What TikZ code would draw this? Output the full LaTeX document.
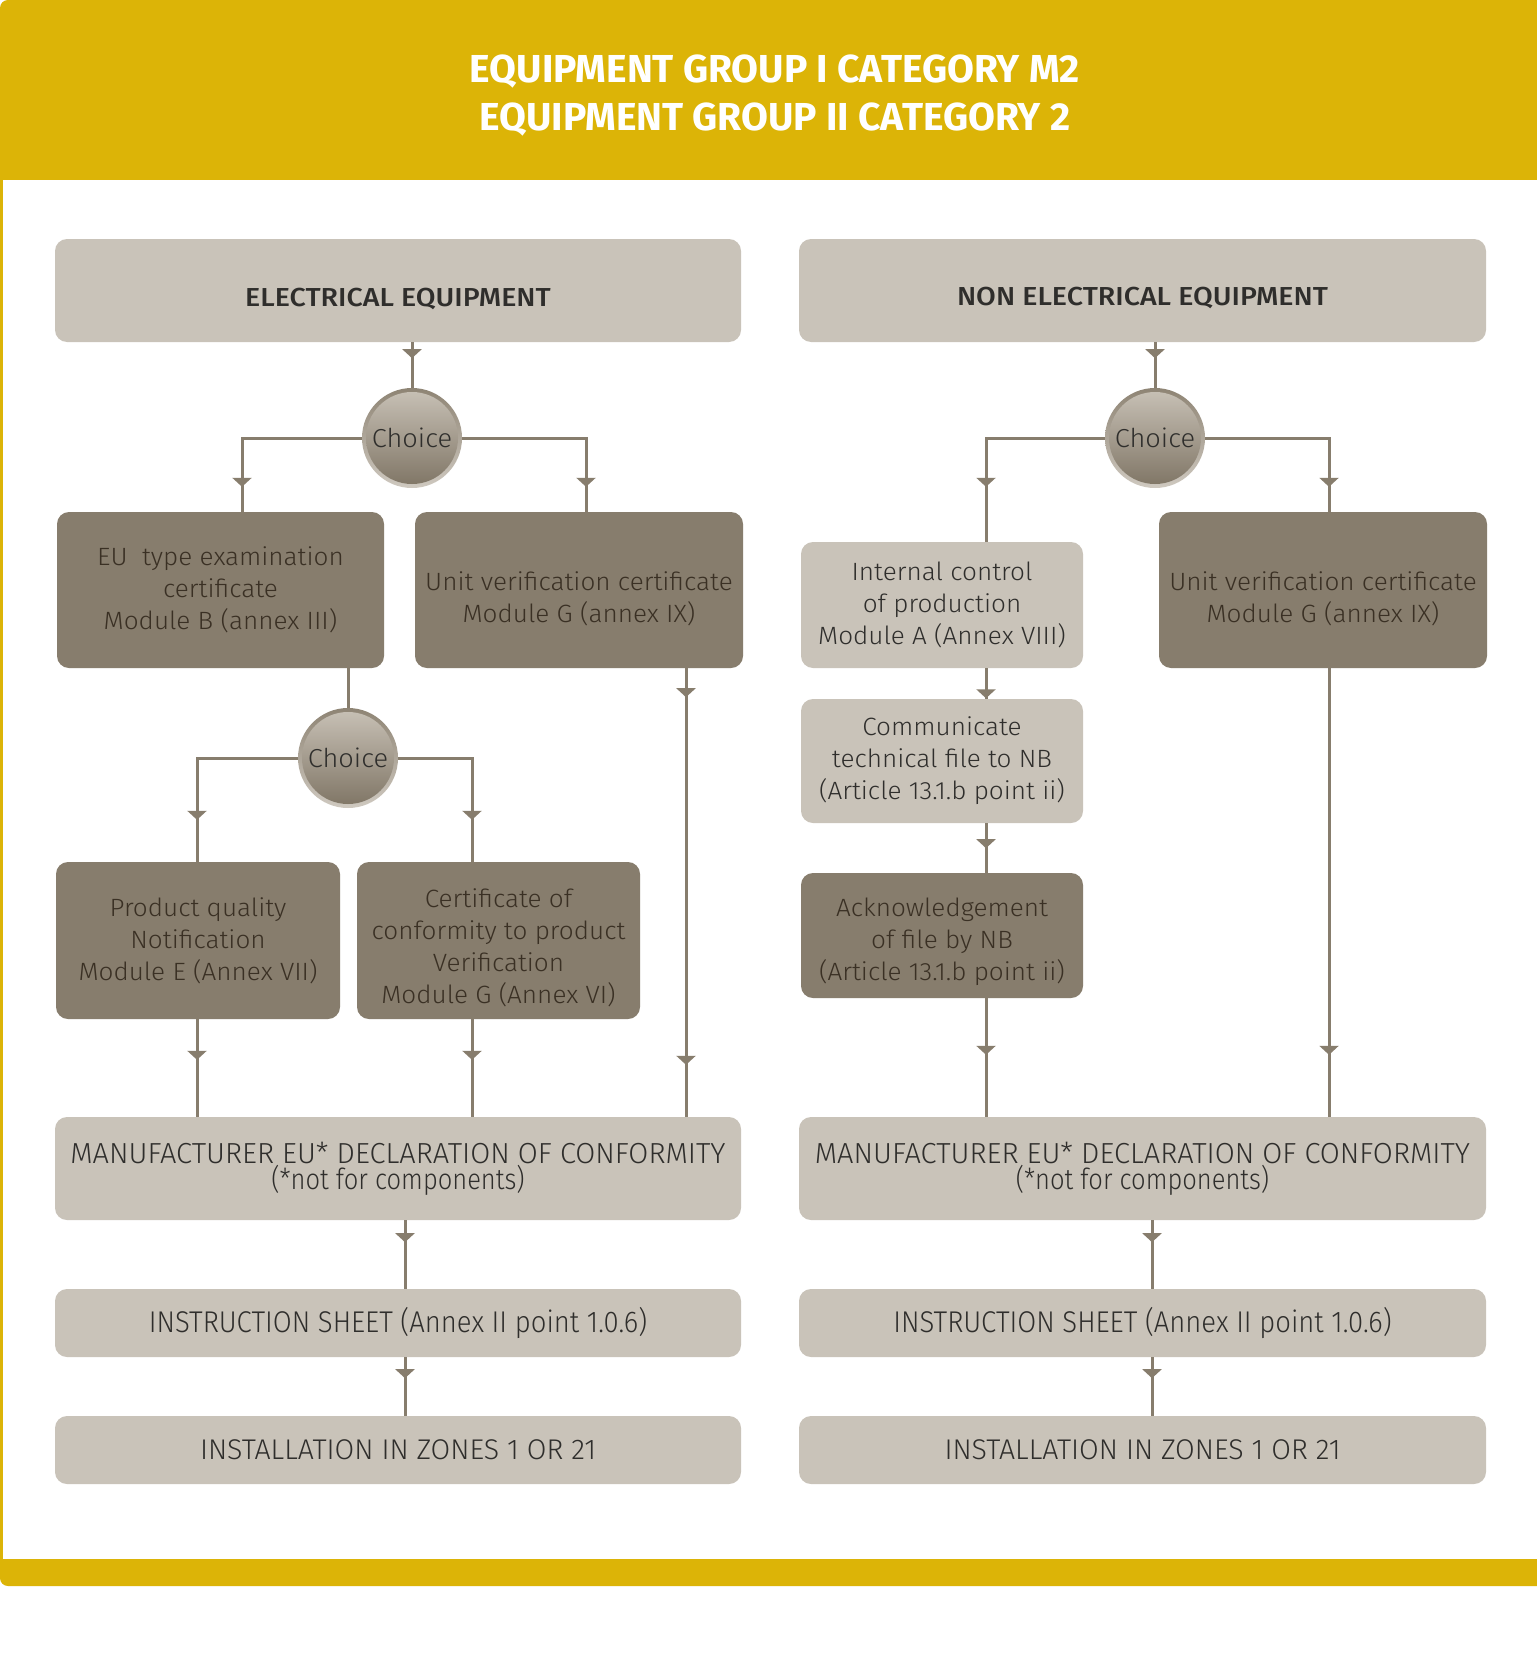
\documentclass[tikz,border=0pt]{standalone}
\usepackage{fontspec}
\setmainfont{Fira Sans Light}
\newfontfamily\fl{Fira Sans Light}[FakeStretch=1.045]
\newfontfamily\fc{Fira Sans Light}
\newfontfamily\fci{Fira Sans Light}[FakeStretch=0.915]
\newfontfamily\fcn{Fira Sans Light}[FakeStretch=0.88]
\newfontfamily\fm{Fira Sans Medium}[FakeStretch=1.1]
\newfontfamily\fb{Fira Sans Bold}[FakeStretch=1.0]
\usetikzlibrary{arrows.meta,decorations.markings}
\definecolor{gold}{HTML}{DCB407}
\definecolor{darkbox}{HTML}{877D6D}
\definecolor{lightbox}{HTML}{C9C3B9}
\definecolor{linec}{HTML}{877D6D}
\definecolor{dtext}{HTML}{3A3024}
\definecolor{ltext}{HTML}{2F2E2C}
\definecolor{ringtop}{HTML}{8E8474}
\definecolor{ringbot}{HTML}{CFC9C0}
\definecolor{chtop}{HTML}{C9C2B7}
\definecolor{chbot}{HTML}{7E7464}
\tikzset{
  box/.style={rounded corners=12pt, inner sep=0pt, align=center},
  dtxt/.style={font=\fl\fontsize{25pt}{32pt}\selectfont, text=dtext, align=center},
  ltxt/.style={font=\fl\fontsize{25pt}{32pt}\selectfont, text=ltext, align=center},
  htxt/.style={font=\fm\fontsize{26pt}{32pt}\selectfont, text=ltext, align=center},
  darkb/.style={box, fill=darkbox, dtxt},
  lightb/.style={box, fill=lightbox, ltxt},
  headb/.style={box, fill=lightbox},
  capb/.style={box, fill=lightbox, text=ltext, font=\fc\fontsize{29pt}{26pt}\selectfont},
  choice/.style={circle, minimum size=100pt, inner sep=0pt, top color=ringtop, bottom color=ringbot, draw=none,
    font=\fl\fontsize{26pt}{30pt}\selectfont, text=ltext,
    path picture={\shade[top color=chtop, bottom color=chbot] (path picture bounding box.center) circle (46pt);}},
  conn/.style={draw=linec, line width=3pt},
  arr/.style={postaction={decorate, decoration={markings, mark=at position #1 with {\arrow[linec]{Triangle[width=19pt,length=9pt]}}}}},
}
\begin{document}
\begin{tikzpicture}[x=1pt, y=-1pt]
\useasboundingbox (0,0) rectangle (1536,1664);
\fill[white] (0,0) rectangle (1536,1664);
% frame
\fill[gold, rounded corners=8pt] (0,0) -- (1546,0) -- (1546,1586) -- (0,1586) -- cycle;
\fill[white] (3,180) rectangle (1540,1559);
\node[text=white, font=\fb\fontsize{39pt}{48pt}\selectfont, align=center] (title) at (775,96)
  {EQUIPMENT GROUP I CATEGORY M2\\EQUIPMENT GROUP II CATEGORY 2};

% left column
\node[headb, minimum width=686pt, minimum height=103pt,
  label={[htxt, yshift=-8.5pt]center:ELECTRICAL EQUIPMENT}] (hdrL) at (398,290.5) {};
\node[choice] (ch1) at (412,438) {Choice};
\node[darkb, minimum width=327pt, minimum height=156pt] (boxB) at (220.5,590)
  {EU\ \ type examination\\certificate\\Module B (annex III)};
\node[darkb, minimum width=328pt, minimum height=156pt,
  label={[dtxt, yshift=-8.5pt]center:{Unit verification certificate\\Module G (annex IX)}}] (unitL) at (579,590) {};
\node[choice] (ch2) at (348,758) {Choice};
\node[darkb, minimum width=284pt, minimum height=157pt] (boxE) at (198,940.5)
  {Product quality\\Notification\\Module E (Annex VII)};
\node[darkb, minimum width=283pt, minimum height=157pt,
  label={[dtxt, yshift=-7.5pt]center:{Certificate of\\conformity to product\\Verification\\Module G (Annex VI)}}] (boxG) at (498.5,940.5) {};
\node[capb, minimum width=686pt, minimum height=103pt] (declL) at (398,1168.5)
  {MANUFACTURER EU* DECLARATION OF CONFORMITY\\{\fcn(*not for components)}};
\node[capb, minimum width=686pt, minimum height=68pt, font=\fci\fontsize{30pt}{30pt}\selectfont] (instrL) at (398,1323)
  {INSTRUCTION SHEET (Annex II point 1.0.6)};
\node[capb, minimum width=686pt, minimum height=68pt, font=\fc\fontsize{28.5pt}{30pt}\selectfont] (instL) at (398,1450)
  {INSTALLATION IN ZONES 1 OR 21};

% right column
\node[headb, minimum width=687pt, minimum height=103pt,
  label={[htxt, yshift=-7pt]center:NON ELECTRICAL EQUIPMENT}] (hdrR) at (1142.5,290.5) {};
\node[choice] (ch3) at (1155,438) {Choice};
\node[lightb, minimum width=282pt, minimum height=126pt] (boxA) at (942,605)
  {Internal control\\of production\\Module A (Annex VIII)};
\node[darkb, minimum width=328pt, minimum height=156pt,
  label={[dtxt, yshift=-8.5pt]center:{Unit verification certificate\\Module G (annex IX)}}] (unitR) at (1323,590) {};
\node[lightb, minimum width=282pt, minimum height=124pt] (comm) at (942,761)
  {Communicate\\technical file to NB\\(Article 13.1.b point ii)};
\node[darkb, minimum width=282pt, minimum height=125pt,
  label={[dtxt, yshift=-6.5pt]center:{Acknowledgement\\of file by NB\\(Article 13.1.b point ii)}}] (ack) at (942,935.5) {};
\node[capb, minimum width=687pt, minimum height=103pt] (declR) at (1142.5,1168.5)
  {MANUFACTURER EU* DECLARATION OF CONFORMITY\\{\fcn(*not for components)}};
\node[capb, minimum width=687pt, minimum height=68pt, font=\fci\fontsize{30pt}{30pt}\selectfont] (instrR) at (1142.5,1323)
  {INSTRUCTION SHEET (Annex II point 1.0.6)};
\node[capb, minimum width=687pt, minimum height=68pt, font=\fc\fontsize{28.5pt}{30pt}\selectfont] (instR) at (1142.5,1450)
  {INSTALLATION IN ZONES 1 OR 21};

% connectors left
\path[conn, arr=16pt] (hdrL.south -| ch1) -- (ch1);
\path[conn, arr=-25pt] (ch1.west) -| ([xshift=21.5pt]boxB.north);
\path[conn, arr=-25pt] (ch1.east) -| ([xshift=7pt]unitL.north);
\path[conn] (boxB.south -| ch2) -- (ch2);
\path[conn, arr=-42pt] (ch2.west) -| ([xshift=-1pt]boxE.north);
\path[conn, arr=-42pt] (ch2.east) -| ([xshift=-26.5pt]boxG.north);
\path[conn, arr=-57pt] ([xshift=-1pt]boxE.south) -- ([xshift=-1pt]boxE.south |- declL.north);
\path[conn, arr=-57pt] ([xshift=-26.5pt]boxG.south) -- ([xshift=-26.5pt]boxG.south |- declL.north);
\path[conn, arr=29pt, arr=-52pt] ([xshift=107pt]unitL.south) -- ([xshift=107pt]unitL.south |- declL.north);
\path[conn, arr=22pt] ([xshift=7pt]declL.south) -- ([xshift=7pt]instrL.north);
\path[conn, arr=21pt] ([xshift=7pt]instrL.south) -- ([xshift=7pt]instL.north);

% connectors right
\path[conn, arr=16pt] (hdrR.south -| ch3) -- (ch3);
\path[conn, arr=-55pt] (ch3.west) -| ([xshift=44pt]boxA.north);
\path[conn, arr=-25pt] (ch3.east) -| ([xshift=6pt]unitR.north);
\path[conn, arr=-0.5pt] ([xshift=44pt]boxA.south) -- ([xshift=44pt]comm.north);
\path[conn, arr=25pt] ([xshift=44pt]comm.south) -- ([xshift=44pt]ack.north);
\path[conn, arr=-62pt] ([xshift=44pt]ack.south) -- ([xshift=44pt]ack.south |- declR.north);
\path[conn, arr=-62pt] ([xshift=6pt]unitR.south) -- ([xshift=6pt]unitR.south |- declR.north);
\path[conn, arr=22pt] ([xshift=9.5pt]declR.south) -- ([xshift=9.5pt]instrR.north);
\path[conn, arr=21pt] ([xshift=9.5pt]instrR.south) -- ([xshift=9.5pt]instR.north);
\end{tikzpicture}
\end{document}
